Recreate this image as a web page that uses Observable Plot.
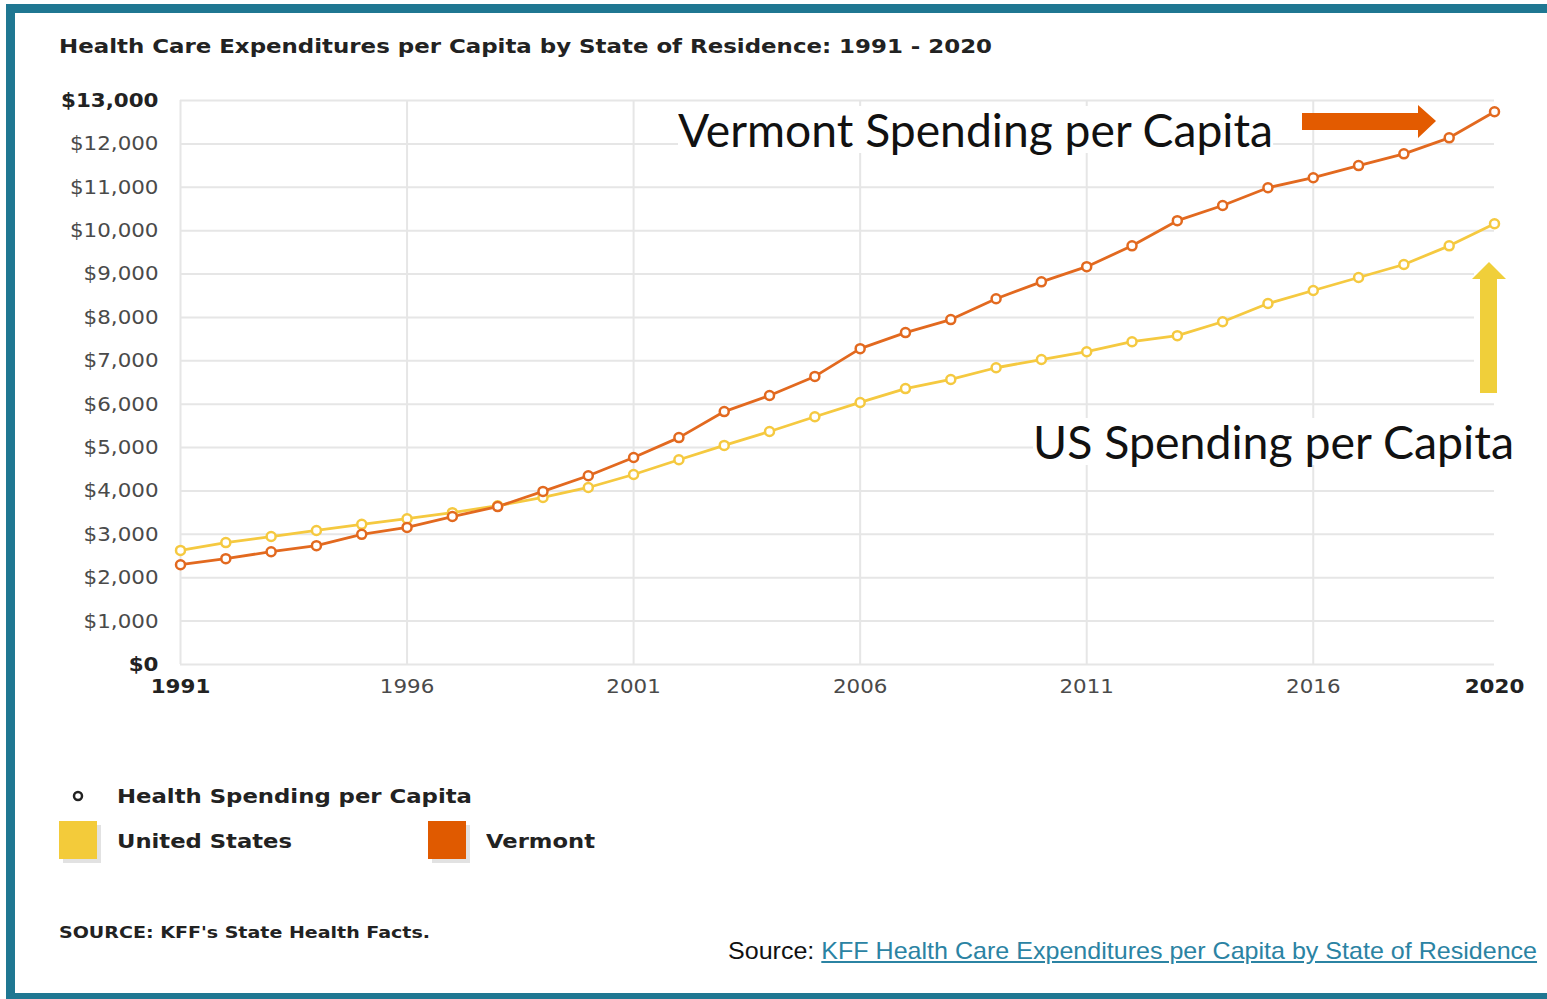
<!DOCTYPE html>
<html>
<head>
<meta charset="utf-8">
<script src="https://cdn.jsdelivr.net/npm/d3@7"></script>
<script src="https://cdn.jsdelivr.net/npm/@observablehq/plot@0.6"></script>
<style>
  html, body { margin: 0; padding: 0; background: #fff; }
  #page { position: absolute; left: 0; top: 0; width: 1547px; height: 999px; overflow: hidden; background: #fff; }
  #border { position: absolute; left: 6px; top: 4px; width: 1700px; height: 980px; border: 9px solid #1f7792; border-right: none; }
  .t { position: absolute; white-space: nowrap; line-height: 1; transform-origin: left center; }
  .b { font-family: "DejaVu Sans", sans-serif; font-weight: bold; color: #222; }
  .big { font-family: Lato, "Open Sans", sans-serif; color: #111; background: #fff; }
  .sw { position: absolute; width: 38px; height: 38px; box-shadow: 4px 4px 0 #e2e2e2; }
  #chart { position: absolute; left: 0; top: 0; }
  a { color: #2b83a3; text-decoration: underline; }
</style>
</head>
<body>
<div id="page">
  <div id="border"></div>
  <div id="chart"></div>
  <div class="t b" id="title" style="left:59px; font-size:20px;" data-cy="46" data-w="933">Health Care Expenditures per Capita by State of Residence: 1991 - 2020</div>
  <div class="t big" id="vtNote" style="left:678px; font-size:47px;" data-cy="129" data-w="595">Vermont Spending per Capita</div>
  <div class="t big" id="usNote" style="left:1033px; font-size:47px;" data-cy="441" data-w="481">US Spending per Capita</div>
  <svg id="arrows" width="1547" height="999" style="position:absolute;left:0;top:0;pointer-events:none">
    <rect x="1474" y="256" width="36" height="142" fill="#fff"></rect>
    <polygon points="1302,113 1418,113 1418,105 1436,121 1418,138 1418,130 1302,130" fill="#e35b00"></polygon>
    <polygon points="1480,393 1480,279 1472,279 1489,262 1506,279 1497,279 1497,393" fill="#f0cf3a"></polygon>
    <circle cx="78" cy="796" r="4" fill="#fff" stroke="#222" stroke-width="2.5"></circle>
  </svg>
  <div class="t b" style="left:117px; font-size:20px;" data-cy="796" data-w="355">Health Spending per Capita</div>
  <div class="sw" style="left:59px; top:821px; background:#f3cb3a;"></div>
  <div class="t b" style="left:117px; font-size:20px;" data-cy="841" data-w="175">United States</div>
  <div class="sw" style="left:428px; top:821px; background:#e05a00;"></div>
  <div class="t b" style="left:486px; font-size:20px;" data-cy="841" data-w="109">Vermont</div>
  <div class="t b" style="left:59px; font-size:16px;" data-cy="933" data-w="371">SOURCE: KFF's State Health Facts.</div>
  <div class="t" style="left:728px; font-size:24px; font-family:'Liberation Sans Narrow','Liberation Sans',sans-serif; color:#111;" data-cy="951" data-w="809">Source: <a>KFF Health Care Expenditures per Capita by State of Residence</a></div>
</div>
<script>
// ---- data ----
const years = [1991,1992,1993,1994,1995,1996,1997,1998,1999,2000,2001,2002,2003,2004,2005,2006,2007,2008,2009,2010,2011,2012,2013,2014,2015,2016,2017,2018,2019,2020];
const usValues = [2630,2810,2950,3090,3230,3360,3500,3660,3850,4080,4380,4720,5050,5370,5710,6040,6360,6570,6840,7030,7210,7440,7580,7900,8320,8620,8920,9220,9650,10160];
const vtValues = [2300,2440,2600,2740,3000,3160,3410,3640,3990,4350,4770,5230,5830,6200,6640,7280,7650,7950,8430,8820,9170,9650,10230,10580,10990,11220,11500,11770,12140,12740];
const seriesNames = ["United States", "Vermont"];
const seriesColors = ["#f5c940", "#e2691f"];
const yTicksRegular = [1000,2000,3000,4000,5000,6000,7000,8000,9000,10000,11000,12000];
const yTicksBold = [0, 13000];
const xTicksRegular = [1996, 2001, 2006, 2011, 2016];
const xTicksBold = [1991, 2020];

const rows = [];
years.forEach((yr, i) => {
  rows.push({year: yr, value: usValues[i], series: seriesNames[0]});
  rows.push({year: yr, value: vtValues[i], series: seriesNames[1]});
});

const money = d3.format("$,");
const font = "DejaVu Sans, sans-serif";

const plot = Plot.plot({
  width: 1547,
  height: 720,
  marginLeft: 180,
  marginRight: 53,
  marginTop: 100,
  marginBottom: 56,
  style: {fontFamily: font, fontSize: "20px", background: "transparent", overflow: "visible"},
  x: {domain: [1991, 2020]},
  y: {domain: [0, 13000]},
  color: {domain: seriesNames, range: seriesColors},
  marks: [
    Plot.gridY(yTicksRegular.concat(yTicksBold), {stroke: "#e6e6e6", strokeOpacity: 1, strokeWidth: 2}),
    Plot.gridX(xTicksBold.slice(0,1).concat(xTicksRegular), {stroke: "#e6e6e6", strokeOpacity: 1, strokeWidth: 2}),
    Plot.axisY(yTicksRegular, {tickSize: 0, tickPadding: 22, tickFormat: money, fill: "#4a4a4a", label: null, fontSize: 20}),
    Plot.axisY(yTicksBold, {tickSize: 0, tickPadding: 22, tickFormat: money, fill: "#222", fontWeight: "bold", label: null, fontSize: 20}),
    Plot.axisX(xTicksRegular, {tickSize: 0, tickPadding: 14, tickFormat: d => String(d), fill: "#4a4a4a", label: null, fontSize: 20}),
    Plot.axisX(xTicksBold, {tickSize: 0, tickPadding: 14, tickFormat: d => String(d), fill: "#222", fontWeight: "bold", label: null, fontSize: 20}),
    Plot.line(rows, {x: "year", y: "value", stroke: "series", strokeWidth: 2.8}),
    Plot.dot(rows, {x: "year", y: "value", stroke: "series", fill: "white", r: 4.5, strokeWidth: 2.5})
  ]
});
document.getElementById("chart").appendChild(plot);

// stretch axis labels horizontally to match the wide look of the reference
plot.querySelectorAll('g[aria-label$="tick label"] text').forEach(t => {
  const w = t.getComputedTextLength();
  t.setAttribute("textLength", (w * 1.07).toFixed(1));
  t.setAttribute("lengthAdjust", "spacingAndGlyphs");
});

// fit HTML text to measured widths / vertical centers
document.querySelectorAll(".t").forEach(el => {
  const r = el.getBoundingClientRect();
  const cy = +el.dataset.cy, w = +el.dataset.w;
  el.style.top = (cy - r.height / 2) + "px";
  el.style.transform = "scaleX(" + (w / r.width).toFixed(4) + ")";
});
</script>
</body>
</html>
